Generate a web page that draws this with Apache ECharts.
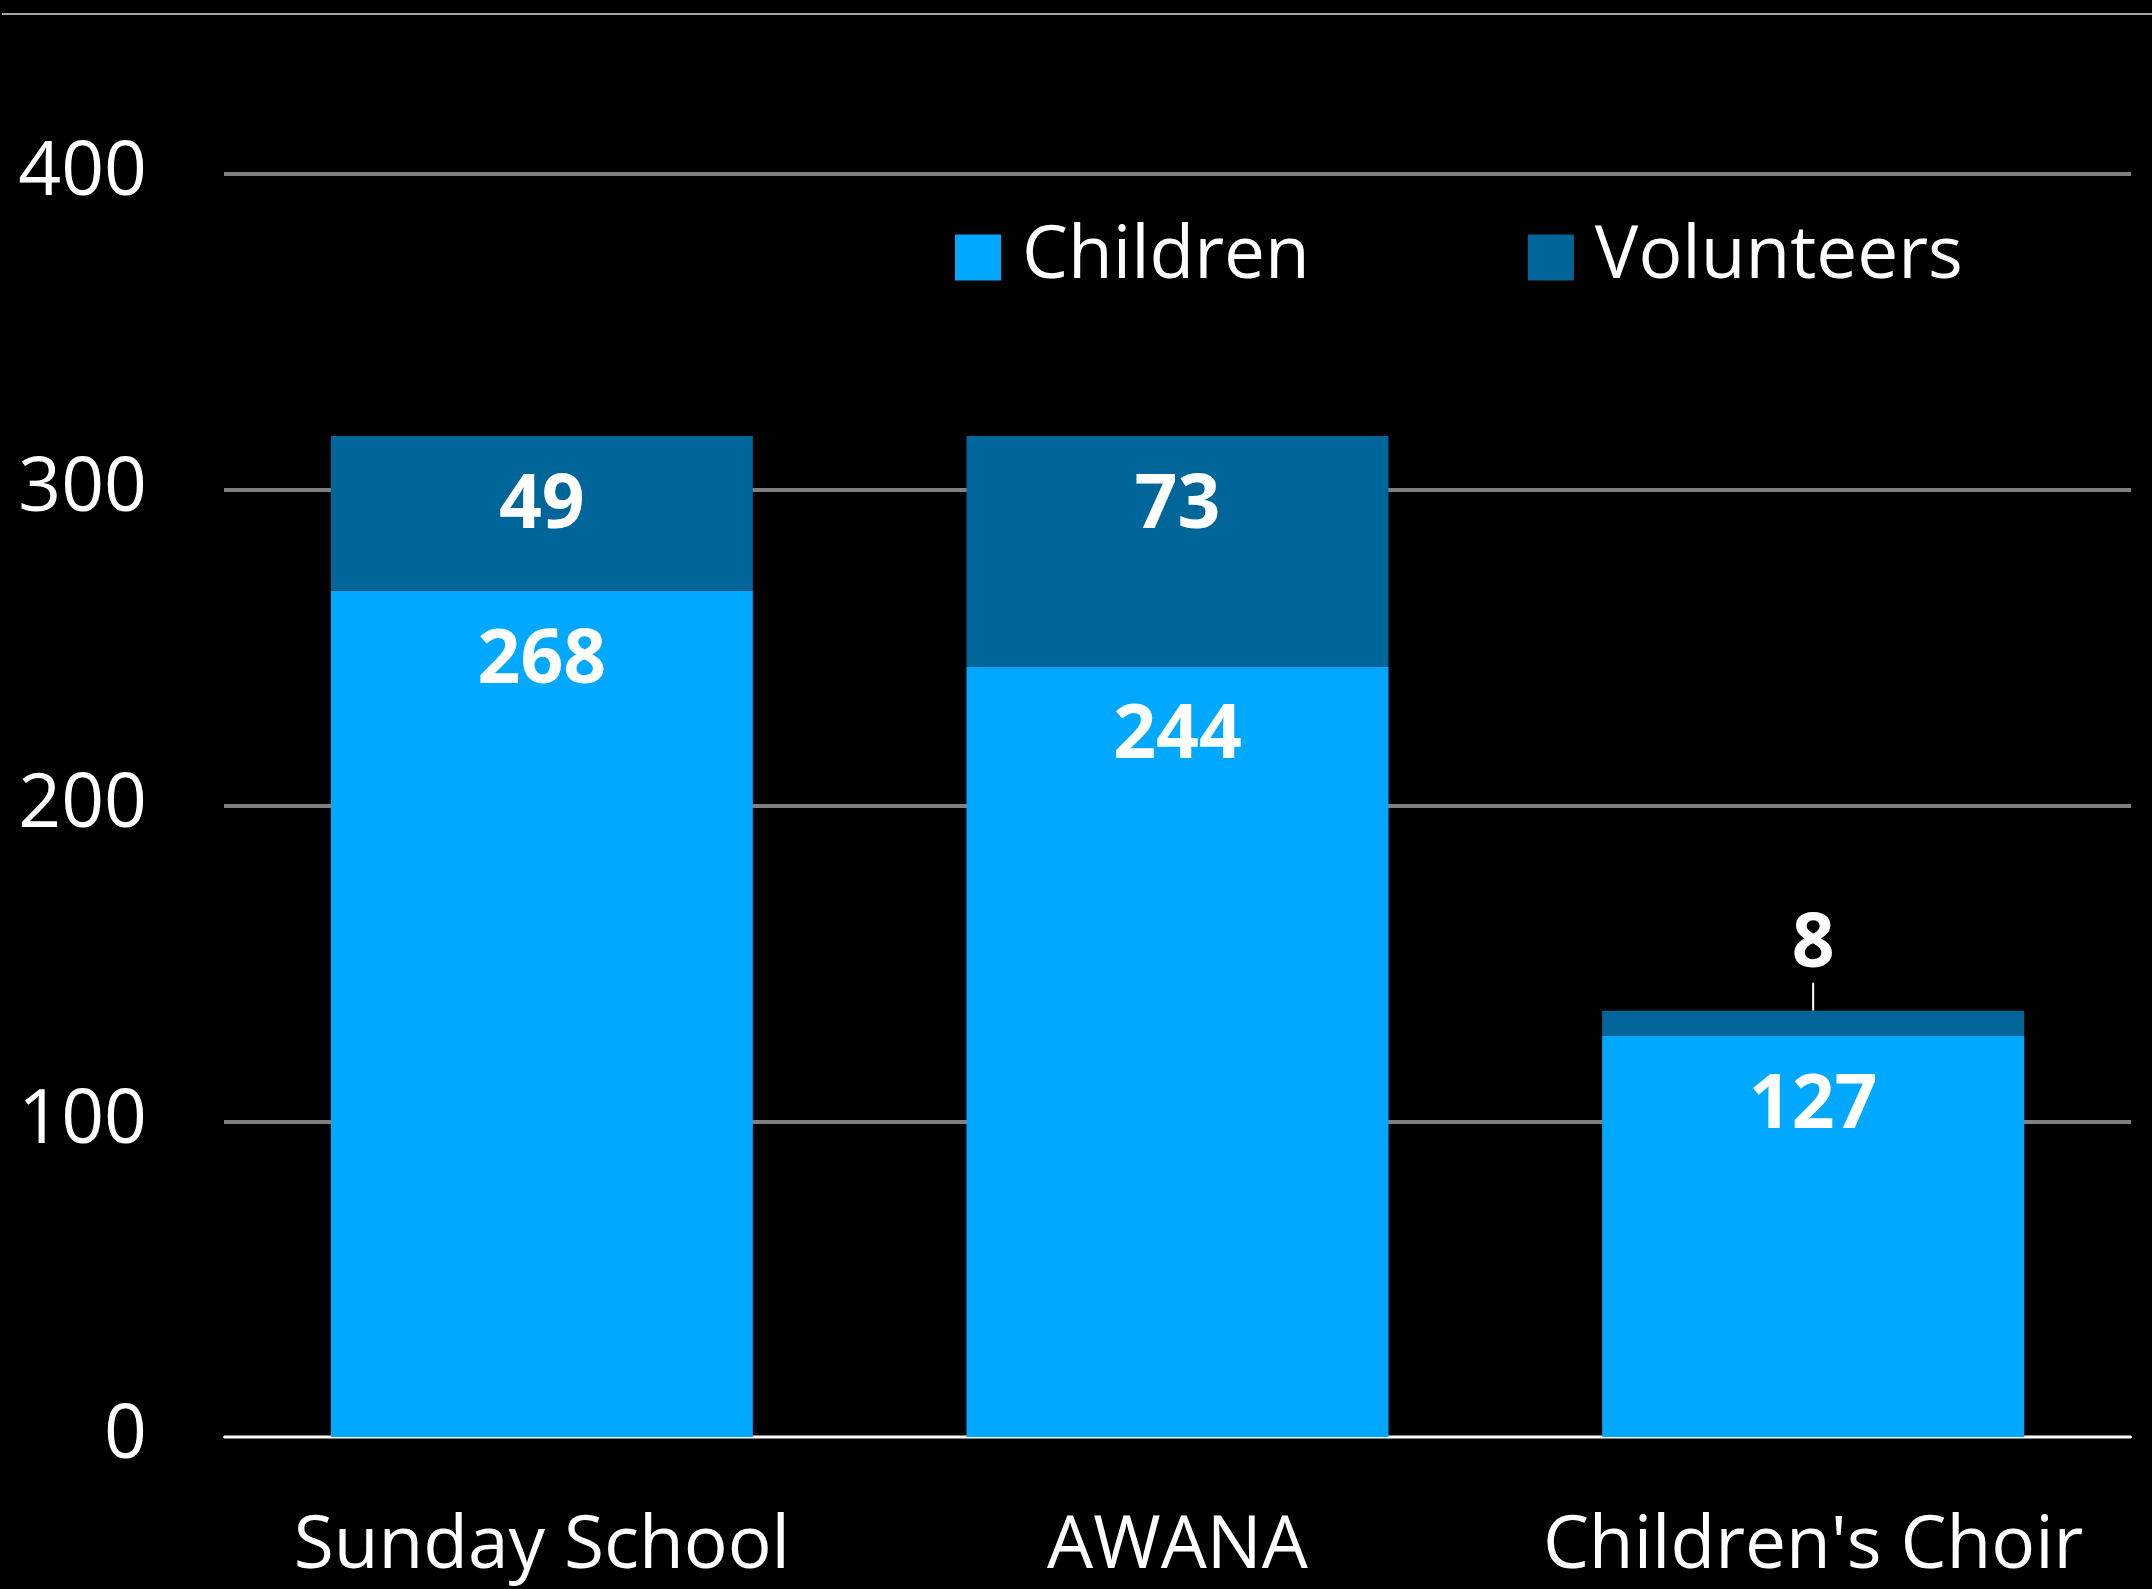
<!DOCTYPE html>
<html>
<head>
<meta charset="utf-8">
<script src="https://cdn.jsdelivr.net/npm/echarts@6/dist/echarts.min.js"></script>
<style>
  html, body { margin: 0; padding: 0; background: #000; }
  #chart { width: 2152px; height: 1589px; }
</style>
</head>
<body>
<div id="chart"></div>
<script>
// data
const categories = ['Sunday School', 'AWANA', "Children's Choir"];
const children = [268, 244, 127];
const volunteers = [49, 73, 8];
const yTicks = [0, 100, 200, 300, 400];

const font = 'Open Sans';

const chart = echarts.init(document.getElementById('chart'));

const option = {
  backgroundColor: '#000',
  animation: false,
  graphic: [{
    type: 'line',
    shape: { x1: 2, y1: 14, x2: 2152, y2: 14 },
    style: { stroke: '#a6a6a6', lineWidth: 2 }
  }],
  legend: {
    left: 950,
    top: 216,
    itemWidth: 46,
    itemHeight: 46,
    itemGap: 218,
    icon: 'rect',
    textStyle: {
      color: '#fff',
      fontFamily: font,
      fontSize: 73,
      padding: [0, 0, 0, 16]
    },
    data: ['Children', 'Volunteers']
  },
  grid: { left: 224, right: 21, top: 174, bottom: 152 },
  xAxis: {
    type: 'category',
    data: categories,
    axisTick: { show: false },
    axisLine: { lineStyle: { color: '#fff', width: 2 } },
    axisLabel: {
      interval: 0,
      color: '#fff',
      fontFamily: font,
      fontSize: 73,
      margin: 74
    }
  },
  yAxis: {
    type: 'value',
    min: yTicks[0],
    max: yTicks[yTicks.length - 1],
    interval: 100,
    axisLine: { show: false },
    axisTick: { show: false },
    splitLine: { lineStyle: { color: '#808080', width: 4 } },
    axisLabel: {
      color: '#fff',
      fontFamily: font,
      fontSize: 75,
      margin: 77
    }
  },
  series: [
    {
      name: 'Children',
      type: 'bar',
      stack: 'total',
      barWidth: 422,
      data: children,
      itemStyle: { color: '#00A8FF' },
      label: {
        show: true,
        position: 'insideTop',
        distance: 33,
        color: '#fff',
        fontFamily: font,
        fontWeight: 'bold',
        fontSize: 75
      }
    },
    {
      name: 'Volunteers',
      type: 'bar',
      stack: 'total',
      barWidth: 422,
      data: volunteers.map((v, i) => {
        if (i !== 2) return v;
        return {
          value: v,
          label: { position: 'top', distance: 0, padding: [0, 0, 42, 0] },
          labelLine: { show: true, lineStyle: { color: '#fff', width: 2 } }
        };
      }),
      itemStyle: { color: '#006699' },
      label: {
        show: true,
        position: 'insideTop',
        distance: 33,
        color: '#fff',
        fontFamily: font,
        fontWeight: 'bold',
        fontSize: 75
      },
      labelLayout: function (p) {
        return p.dataIndex === 2 ? { dy: 14 } : {};
      }
    }
  ]
};

chart.setOption(option);
</script>
</body>
</html>
